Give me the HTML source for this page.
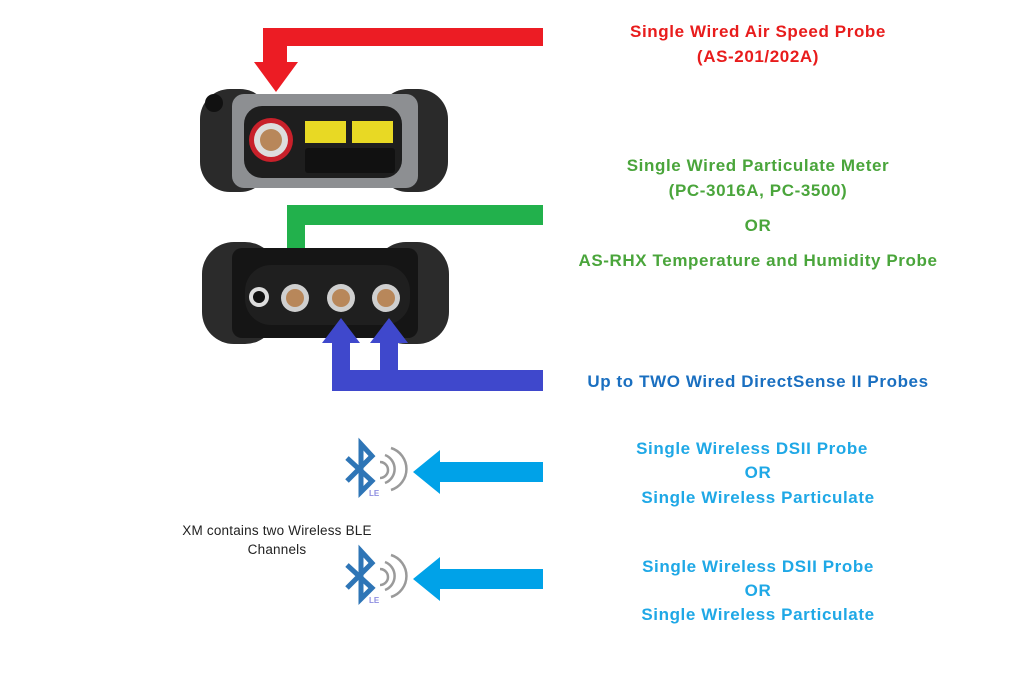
<!DOCTYPE html>
<html><head><style>
html,body{margin:0;padding:0;background:#fff;}
body{width:1024px;height:685px;position:relative;overflow:hidden;font-family:"Liberation Sans",sans-serif;}
.t{position:absolute;font-weight:bold;font-size:17px;letter-spacing:0.6px;text-align:center;white-space:nowrap;transform:translateX(-50%);}
</style></head><body>
<svg width="1024" height="685" style="position:absolute;left:0;top:0">
<polygon points="543,28 263,28 263,62 254,62 276,92 298,62 287,62 287,46 543,46" fill="#ec1c24"/>
<rect x="200" y="89" width="70" height="103" rx="30" fill="#2a2a2a"/>
<rect x="378" y="89" width="70" height="103" rx="30" fill="#2a2a2a"/>
<rect x="232" y="94" width="186" height="94" rx="12" fill="#8d8f92"/>
<rect x="244" y="106" width="158" height="72" rx="18" fill="#1e1e1e"/>
<circle cx="271" cy="140" r="22" fill="#c8202a"/>
<circle cx="271" cy="140" r="17" fill="#ddd"/>
<circle cx="271" cy="140" r="11" fill="#b8875a"/>
<rect x="305" y="121" width="41" height="22" fill="#e8d924"/>
<rect x="352" y="121" width="41" height="22" fill="#e8d924"/>
<rect x="305" y="148" width="90" height="25" rx="3" fill="#111"/>
<circle cx="214" cy="103" r="9" fill="#111"/>
<polygon points="543,205 287,205 287,250 278,250 296,278 315,250 305,250 305,225 543,225" fill="#22b14c"/>
<rect x="202" y="242" width="75" height="102" rx="32" fill="#2b2b2b"/>
<rect x="374" y="242" width="75" height="102" rx="32" fill="#2b2b2b"/>
<rect x="232" y="248" width="186" height="90" rx="10" fill="#151515"/>
<rect x="245" y="265" width="165" height="60" rx="26" fill="#1f1f1f"/>
<circle cx="259" cy="297" r="10" fill="#ddd"/><circle cx="259" cy="297" r="6" fill="#111"/>
<g fill="#cfcfcf"><circle cx="295" cy="298" r="14"/><circle cx="341" cy="298" r="14"/><circle cx="386" cy="298" r="14"/></g>
<g fill="#b8875a"><circle cx="295" cy="298" r="9"/><circle cx="341" cy="298" r="9"/><circle cx="386" cy="298" r="9"/></g>
<polygon points="543,370 398,370 398,343 408,343 389,318 370,343 380,343 380,370 350,370 350,343 360,343 341,318 322,343 332,343 332,391 543,391" fill="#3f48cc"/>
<polygon points="543,462 440,462 440,450 413,472 440,494 440,482 543,482" fill="#00a2e8"/>
<polygon points="543,569 440,569 440,557 413,579 440,601 440,589 543,589" fill="#00a2e8"/>
<g fill="none" stroke="#2e75b6" stroke-width="5" stroke-linejoin="miter">
<polyline points="347,458 372,481 361,492 361,444 372,456 347,481"/>
<polyline points="347,565 372,588 361,599 361,551 372,563 347,588"/>
</g>
<g fill="none" stroke="#9a9a9a" stroke-width="2.5">
<path d="M380,462 a8,8 0 0 1 0,16"/><path d="M385,455 a15,15 0 0 1 0,28"/><path d="M391,448 a22,22 0 0 1 0,42"/>
<path d="M380,569 a8,8 0 0 1 0,16"/><path d="M385,562 a15,15 0 0 1 0,28"/><path d="M391,555 a22,22 0 0 1 0,42"/>
</g>
<text x="369" y="496" font-family="Liberation Sans" font-size="8" font-weight="bold" fill="#8e8ee0">LE</text>
<text x="369" y="603" font-family="Liberation Sans" font-size="8" font-weight="bold" fill="#8e8ee0">LE</text>
</svg>
<div class="t" style="left:758px;top:22px;color:#e81c1c">Single Wired Air Speed Probe</div>
<div class="t" style="left:758px;top:47px;color:#e81c1c">(AS-201/202A)</div>
<div class="t" style="left:758px;top:156px;color:#4aa53b">Single Wired Particulate Meter</div>
<div class="t" style="left:758px;top:181px;color:#4aa53b">(PC-3016A, PC-3500)</div>
<div class="t" style="left:758px;top:216px;color:#4aa53b">OR</div>
<div class="t" style="left:758px;top:251px;color:#4aa53b">AS-RHX Temperature and Humidity Probe</div>
<div class="t" style="left:758px;top:372px;color:#1a6fc0">Up to TWO Wired DirectSense II Probes</div>
<div class="t" style="left:752px;top:439px;color:#1fa8e6">Single Wireless DSII Probe</div>
<div class="t" style="left:758px;top:463px;color:#1fa8e6">OR</div>
<div class="t" style="left:758px;top:488px;color:#1fa8e6">Single Wireless Particulate</div>
<div class="t" style="left:758px;top:557px;color:#1fa8e6">Single Wireless DSII Probe</div>
<div class="t" style="left:758px;top:581px;color:#1fa8e6">OR</div>
<div class="t" style="left:758px;top:605px;color:#1fa8e6">Single Wireless Particulate</div>
<div style="position:absolute;left:157px;top:521px;width:240px;text-align:center;font-size:13.5px;letter-spacing:0.2px;color:#222;line-height:19px">XM contains two Wireless BLE<br>Channels</div>
</body></html>
